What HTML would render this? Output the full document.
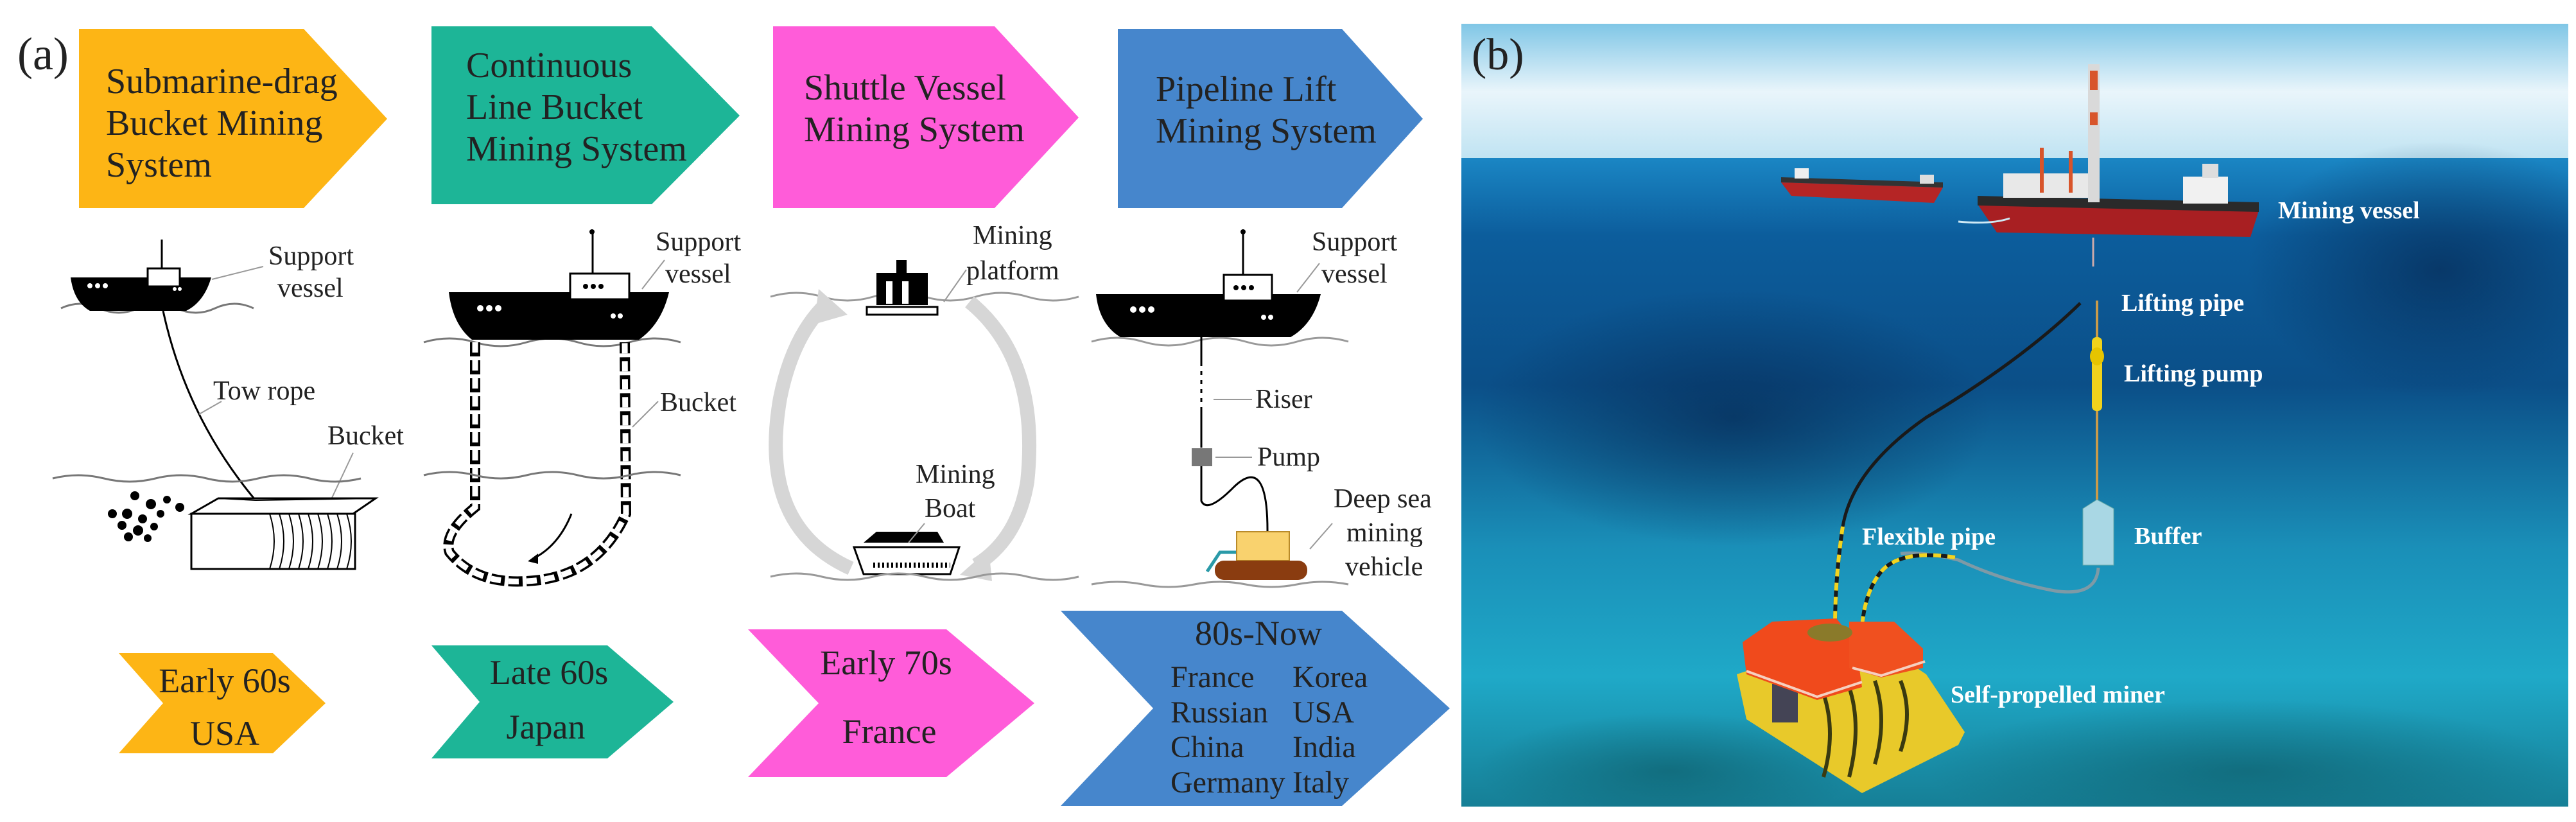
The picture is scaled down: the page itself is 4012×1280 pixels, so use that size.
<!DOCTYPE html>
<html><head><meta charset="utf-8"><style>
html,body{margin:0;padding:0;background:#fff;width:4012px;height:1280px;overflow:hidden}
svg{display:block}
</style></head><body>
<svg width="4012" height="1280" viewBox="0 0 4012 1280" xmlns="http://www.w3.org/2000/svg" font-family="'Liberation Serif','DejaVu Serif',serif">
<defs>
<linearGradient id="sky" x1="0" y1="0" x2="0" y2="1">
<stop offset="0" stop-color="#7fc6e6"/><stop offset="0.5" stop-color="#e9f5fb"/><stop offset="1" stop-color="#bfe3f2"/>
</linearGradient>
<linearGradient id="sea" x1="0" y1="0" x2="0" y2="1">
<stop offset="0" stop-color="#1a86c4"/><stop offset="0.12" stop-color="#0c5d9c"/><stop offset="0.35" stop-color="#0b4f88"/><stop offset="0.6" stop-color="#1a8fb8"/><stop offset="0.8" stop-color="#1fa9c8"/><stop offset="1" stop-color="#167f96"/>
</linearGradient>
<radialGradient id="dark" cx="0.5" cy="0.5" r="0.5"><stop offset="0" stop-color="#062a55" stop-opacity="0.7"/><stop offset="1" stop-color="#062a55" stop-opacity="0"/></radialGradient>
<radialGradient id="floor" cx="0.5" cy="0.5" r="0.5"><stop offset="0" stop-color="#0d5a66" stop-opacity="0.6"/><stop offset="1" stop-color="#0d5a66" stop-opacity="0"/></radialGradient>
<clipPath id="pb"><rect x="2276" y="37" width="1724" height="1219"/></clipPath>
</defs>

<!-- ============ PANEL A ============ -->
<text x="27" y="108" font-size="72" fill="#222">(a)</text>

<polygon points="123,45 473,45 603,185 473,324 123,324" fill="#FDB515"/>
<polygon points="672,41 1015,41 1152,180 1015,318 672,318" fill="#1DB597"/>
<polygon points="1204,41 1549,41 1680,183 1549,324 1204,324" fill="#FF5CD9"/>
<polygon points="1741,45 2090,45 2216,185 2090,324 1741,324" fill="#4686CC"/>

<g font-size="56" fill="#222">
<text x="165" y="145">Submarine-drag</text>
<text x="165" y="210">Bucket Mining</text>
<text x="165" y="275">System</text>
<text x="726" y="120">Continuous</text>
<text x="726" y="185">Line Bucket</text>
<text x="726" y="250">Mining System</text>
<text x="1252" y="155">Shuttle Vessel</text>
<text x="1252" y="220">Mining System</text>
<text x="1800" y="157">Pipeline Lift</text>
<text x="1800" y="222">Mining System</text>
</g>

<polygon points="185,1017 425,1017 507,1095 425,1173 185,1173 254,1095" fill="#FDB515"/>
<polygon points="672,1005 946,1005 1049,1093 946,1181 672,1181 747,1093" fill="#1DB597"/>
<polygon points="1165,980 1474,980 1611,1095 1474,1210 1165,1210 1275,1095" fill="#FF5CD9"/>
<polygon points="1652,951 2090,951 2258,1103 2090,1255 1652,1255 1796,1103" fill="#4686CC"/>
<g font-size="54" fill="#222" text-anchor="middle">
<text x="350" y="1078">Early 60s</text>
<text x="350" y="1160">USA</text>
<text x="855" y="1065">Late 60s</text>
<text x="850" y="1150">Japan</text>
<text x="1380" y="1050">Early 70s</text>
<text x="1385" y="1157">France</text>
<text x="1960" y="1004">80s-Now</text>
</g>
<g font-size="48" fill="#222">
<text x="1823" y="1070">France</text><text x="2013" y="1070">Korea</text>
<text x="1823" y="1125">Russian</text><text x="2013" y="1125">USA</text>
<text x="1823" y="1179">China</text><text x="2013" y="1179">India</text>
<text x="1823" y="1234">Germany</text><text x="2013" y="1234">Italy</text>
</g>

<!-- Column 1 -->
<g>
<path d="M95,480 q30,-14 60,0 t60,0 t60,0 t60,0 t60,0" stroke="#777" stroke-width="3" fill="none"/>
<path d="M110,432 L329,432 Q318,470 290,484 L140,484 Q115,470 110,432 Z" fill="#000"/>
<rect x="230" y="418" width="50" height="28" fill="#fff" stroke="#000" stroke-width="3"/>
<line x1="252" y1="373" x2="252" y2="418" stroke="#000" stroke-width="3"/>
<circle cx="140" cy="445" r="4" fill="#fff"/><circle cx="152" cy="445" r="4" fill="#fff"/><circle cx="164" cy="445" r="4" fill="#fff"/>
<circle cx="272" cy="450" r="3" fill="#fff"/><circle cx="280" cy="450" r="3" fill="#fff"/>
<line x1="330" y1="435" x2="410" y2="415" stroke="#999" stroke-width="2"/>
<text x="418" y="412" font-size="42" fill="#222">Support</text>
<text x="432" y="462" font-size="42" fill="#222">vessel</text>
<path d="M254,484 Q290,650 398,779" stroke="#000" stroke-width="3" fill="none"/>
<line x1="310" y1="645" x2="345" y2="625" stroke="#999" stroke-width="2"/>
<text x="332" y="622" font-size="42" fill="#222">Tow rope</text>
<text x="510" y="692" font-size="42" fill="#222">Bucket</text>
<line x1="550" y1="705" x2="510" y2="790" stroke="#999" stroke-width="2"/>
<path d="M82,745 q40,-10 80,0 t80,0 t80,0 t80,0 t80,0 t80,0" stroke="#777" stroke-width="3" fill="none"/>
<polygon points="298,800 340,776 585,776 550,800" fill="#fff" stroke="#000" stroke-width="3"/>
<rect x="298" y="800" width="255" height="86" fill="#fff" stroke="#000" stroke-width="3"/>
<g stroke="#000" stroke-width="2" fill="none">
<path d="M420,800 q14,43 0,86 M435,800 q14,43 0,86 M450,800 q14,43 0,86 M465,800 q14,43 0,86 M480,800 q14,43 0,86 M495,800 q14,43 0,86 M510,800 q14,43 0,86 M525,800 q14,43 0,86 M540,800 q14,43 0,86"/>
<path d="M340,776 L398,779 M585,776 L398,779"/>
</g>
<g fill="#000">
<circle cx="210" cy="772" r="7"/><circle cx="235" cy="785" r="8"/><circle cx="260" cy="778" r="6"/><circle cx="280" cy="790" r="7"/>
<circle cx="175" cy="800" r="7"/><circle cx="198" cy="800" r="8"/><circle cx="222" cy="808" r="7"/><circle cx="250" cy="800" r="6"/>
<circle cx="190" cy="818" r="7"/><circle cx="215" cy="826" r="8"/><circle cx="240" cy="820" r="6"/><circle cx="200" cy="836" r="7"/><circle cx="230" cy="838" r="6"/>
</g>
</g>

<!-- Column 2 -->
<g>
<path d="M660,533 q40,-12 80,0 t80,0 t80,0 t80,0 t80,0" stroke="#777" stroke-width="3" fill="none"/>
<path d="M699,455 L1042,455 Q1030,505 995,529 L735,529 Q705,505 699,455 Z" fill="#000"/>
<rect x="888" y="426" width="92" height="40" fill="#fff" stroke="#000" stroke-width="3"/>
<line x1="923" y1="361" x2="923" y2="426" stroke="#000" stroke-width="3"/>
<circle cx="922" cy="361" r="4" fill="#000"/>
<circle cx="912" cy="446" r="4" fill="#000"/><circle cx="924" cy="446" r="4" fill="#000"/><circle cx="936" cy="446" r="4" fill="#000"/>
<circle cx="748" cy="480" r="5" fill="#fff"/><circle cx="762" cy="480" r="5" fill="#fff"/><circle cx="776" cy="480" r="5" fill="#fff"/>
<circle cx="955" cy="492" r="4" fill="#fff"/><circle cx="966" cy="492" r="4" fill="#fff"/>
<text x="1021" y="390" font-size="42" fill="#222">Support</text>
<text x="1036" y="440" font-size="42" fill="#222">vessel</text>
<line x1="1000" y1="450" x2="1035" y2="405" stroke="#999" stroke-width="2"/>
<path d="M740,533 L740,790 Q690,830 700,860 Q740,910 820,905 Q930,900 975,800 L973,533" stroke="#000" stroke-width="16" stroke-dasharray="22,6" fill="none"/>
<path d="M740,533 L740,790 Q690,830 700,860 Q740,910 820,905 Q930,900 975,800 L973,533" stroke="#fff" stroke-width="9" stroke-dasharray="16,12" fill="none"/>
<path d="M890,800 Q870,850 830,870" stroke="#000" stroke-width="3" fill="none"/>
<polygon points="822,874 838,862 838,878" fill="#000"/>
<text x="1028" y="640" font-size="42" fill="#222">Bucket</text>
<line x1="985" y1="665" x2="1025" y2="625" stroke="#999" stroke-width="2"/>
<path d="M660,740 q40,-10 80,0 t80,0 t80,0 t80,0 t80,0" stroke="#777" stroke-width="3" fill="none"/>
</g>

<!-- Column 3 -->
<g>
<path d="M1200,462 q40,-12 80,0 t80,0 t80,0 t80,0 t80,0 t80,0" stroke="#999" stroke-width="3" fill="none"/>
<rect x="1365" y="425" width="80" height="50" fill="#000"/>
<rect x="1380" y="438" width="10" height="35" fill="#fff"/><rect x="1405" y="438" width="10" height="35" fill="#fff"/>
<rect x="1350" y="478" width="110" height="12" fill="#fff" stroke="#000" stroke-width="3"/>
<rect x="1396" y="405" width="16" height="20" fill="#000"/>
<text x="1515" y="380" font-size="42" fill="#222">Mining</text>
<text x="1505" y="435" font-size="42" fill="#222">platform</text>
<line x1="1470" y1="470" x2="1505" y2="420" stroke="#999" stroke-width="2"/>
<path d="M1325,885 Q1180,820 1215,620 Q1235,520 1290,470" stroke="#d6d6d6" stroke-width="22" fill="none"/>
<polygon points="1275,450 1320,490 1268,505" fill="#d6d6d6"/>
<path d="M1510,470 Q1620,560 1600,750 Q1585,840 1520,880" stroke="#d6d6d6" stroke-width="22" fill="none"/>
<polygon points="1495,895 1540,855 1545,905" fill="#d6d6d6"/>
<path d="M1345,845 L1365,828 L1460,828 L1470,845 Z" fill="#000"/>
<path d="M1330,852 L1494,852 L1480,894 L1345,894 Z" fill="#fff" stroke="#000" stroke-width="3"/>
<path d="M1360,880 L1480,880" stroke="#000" stroke-width="8" stroke-dasharray="3,4"/>
<text x="1426" y="752" font-size="42" fill="#222">Mining</text>
<text x="1440" y="805" font-size="42" fill="#222">Boat</text>
<line x1="1440" y1="815" x2="1415" y2="845" stroke="#999" stroke-width="2"/>
<path d="M1200,898 q40,-10 80,0 t80,0 t80,0 t80,0 t80,0 t80,0" stroke="#999" stroke-width="3" fill="none"/>
</g>

<!-- Column 4 -->
<g>
<path d="M1700,532 q40,-12 80,0 t80,0 t80,0 t80,0 t80,0" stroke="#999" stroke-width="3" fill="none"/>
<path d="M1707,458 L2057,458 Q2045,505 2010,525 L1745,525 Q1712,505 1707,458 Z" fill="#000"/>
<rect x="1906" y="428" width="75" height="40" fill="#fff" stroke="#000" stroke-width="3"/>
<line x1="1936" y1="361" x2="1936" y2="428" stroke="#000" stroke-width="3"/>
<circle cx="1936" cy="361" r="4" fill="#000"/>
<circle cx="1925" cy="448" r="4" fill="#000"/><circle cx="1937" cy="448" r="4" fill="#000"/><circle cx="1949" cy="448" r="4" fill="#000"/>
<circle cx="1765" cy="482" r="5" fill="#fff"/><circle cx="1779" cy="482" r="5" fill="#fff"/><circle cx="1793" cy="482" r="5" fill="#fff"/>
<circle cx="1968" cy="494" r="4" fill="#fff"/><circle cx="1979" cy="494" r="4" fill="#fff"/>
<text x="2043" y="390" font-size="42" fill="#222">Support</text>
<text x="2058" y="440" font-size="42" fill="#222">vessel</text>
<line x1="2020" y1="455" x2="2055" y2="410" stroke="#999" stroke-width="2"/>
<line x1="1871" y1="525" x2="1871" y2="697" stroke="#000" stroke-width="3"/>
<line x1="1871" y1="570" x2="1871" y2="640" stroke="#fff" stroke-width="3" stroke-dasharray="8,6"/>
<line x1="1890" y1="622" x2="1950" y2="622" stroke="#999" stroke-width="2"/>
<text x="1955" y="635" font-size="42" fill="#222">Riser</text>
<rect x="1856" y="698" width="32" height="28" fill="#777"/>
<line x1="1893" y1="712" x2="1950" y2="712" stroke="#999" stroke-width="2"/>
<text x="1958" y="725" font-size="42" fill="#222">Pump</text>
<path d="M1871,726 L1871,780 Q1880,800 1920,760 Q1975,705 1974,830" stroke="#000" stroke-width="3" fill="none"/>
<rect x="1926" y="828" width="82" height="45" fill="#F9D26E" stroke="#b98b2a" stroke-width="2"/>
<rect x="1892" y="873" width="144" height="30" rx="14" fill="#8a3c10"/>
<path d="M1880,890 L1900,860 L1925,860" stroke="#2a9aa8" stroke-width="5" fill="none"/>
<text x="2077" y="790" font-size="42" fill="#222">Deep sea</text>
<text x="2097" y="843" font-size="42" fill="#222">mining</text>
<text x="2095" y="896" font-size="42" fill="#222">vehicle</text>
<line x1="2040" y1="855" x2="2075" y2="815" stroke="#999" stroke-width="2"/>
<path d="M1700,910 q40,-8 80,0 t80,0 t80,0 t80,0 t80,0" stroke="#999" stroke-width="3" fill="none"/>
</g>

<!-- ============ PANEL B ============ -->
<g clip-path="url(#pb)">
<rect x="2276" y="37" width="1724" height="212" fill="url(#sky)"/>
<rect x="2276" y="246" width="1724" height="1010" fill="url(#sea)"/>
<ellipse cx="3800" cy="420" rx="300" ry="200" fill="url(#dark)"/>
<ellipse cx="2700" cy="650" rx="400" ry="200" fill="url(#dark)"/>
<ellipse cx="3500" cy="1200" rx="500" ry="110" fill="url(#floor)"/>
<ellipse cx="2600" cy="1200" rx="300" ry="90" fill="url(#floor)"/>
</g>
<text x="2292" y="108" font-size="70" fill="#222">(b)</text>

<path d="M2774,284 L3026,292 L3012,316 L2790,305 Z" fill="#b52525"/>
<path d="M2774,276 L3026,284 L3026,292 L2774,284 Z" fill="#333"/>
<rect x="2795" y="262" width="22" height="16" fill="#eee"/>
<rect x="2990" y="272" width="22" height="14" fill="#ddd"/>
<path d="M3080,318 L3518,328 L3505,369 L3110,362 Z" fill="#a81f22"/>
<path d="M3080,305 L3518,315 L3518,330 L3080,320 Z" fill="#2a2a2a"/>
<rect x="3120" y="270" width="150" height="38" fill="#e8e8e8"/>
<rect x="3400" y="275" width="70" height="42" fill="#f1f1f1"/>
<rect x="3430" y="255" width="25" height="22" fill="#ddd"/>
<rect x="3252" y="100" width="18" height="215" fill="#d9d9d9"/>
<rect x="3255" y="110" width="12" height="30" fill="#d8542a"/>
<rect x="3255" y="175" width="12" height="20" fill="#d8542a"/>
<line x1="3180" y1="230" x2="3180" y2="300" stroke="#d8542a" stroke-width="6"/>
<line x1="3225" y1="235" x2="3225" y2="300" stroke="#d8542a" stroke-width="6"/>
<path d="M3050,345 Q3100,350 3130,340" stroke="#cfe9f5" stroke-width="3" fill="none"/>
<text x="3548" y="340" font-size="38" font-weight="bold" fill="#fff">Mining vessel</text>

<line x1="3260" y1="370" x2="3260" y2="415" stroke="#caa" stroke-width="3"/>
<line x1="3266" y1="468" x2="3266" y2="780" stroke="#c99b4a" stroke-width="4"/>
<rect x="3258" y="525" width="16" height="115" rx="7" fill="#f0d21c"/>
<ellipse cx="3266" cy="555" rx="11" ry="14" fill="#e6c400"/>
<text x="3304" y="484" font-size="38" font-weight="bold" fill="#fff">Lifting pipe</text>
<text x="3308" y="594" font-size="38" font-weight="bold" fill="#fff">Lifting pump</text>
<path d="M3244,792 L3266,778 L3292,792 L3292,880 L3244,880 Z" fill="#a9d7e4" stroke="#6aa" stroke-width="1"/>
<text x="3324" y="847" font-size="38" font-weight="bold" fill="#fff">Buffer</text>
<path d="M3240,472 Q3150,560 3000,650 Q2885,730 2870,820" stroke="#1a1a1a" stroke-width="5" fill="none"/>
<path d="M2870,820 Q2858,900 2858,975" stroke="#1a1a1a" stroke-width="6" fill="none"/>
<path d="M2870,820 Q2858,900 2858,975" stroke="#f2d420" stroke-width="6" stroke-dasharray="12,10" fill="none"/>
<path d="M3268,884 Q3265,930 3200,920 Q3120,905 3050,872 Q2990,858 2960,862" stroke="#7e9aa6" stroke-width="5" fill="none"/>
<path d="M3045,868 Q2960,855 2930,890 Q2905,920 2900,975" stroke="#1a1a1a" stroke-width="6" fill="none"/>
<path d="M3045,868 Q2960,855 2930,890 Q2905,920 2900,975" stroke="#f2d420" stroke-width="6" stroke-dasharray="12,10" fill="none"/>
<text x="2900" y="848" font-size="38" font-weight="bold" fill="#fff">Flexible pipe</text>

<polygon points="2705,1050 2735,1040 2985,1040 3000,1050 3060,1140 3050,1160 2900,1235 2720,1120" fill="#e8c92a"/>
<g stroke="#3a3a10" stroke-width="6" fill="none">
<path d="M2880,1070 q20,60 0,140"/><path d="M2920,1060 q20,60 0,130"/><path d="M2960,1060 q20,50 0,110"/><path d="M2840,1080 q20,60 0,130"/>
</g>
<rect x="2760" y="1065" width="40" height="60" fill="#445"/>
<polygon points="2714,1000 2760,968 2860,963 2890,1000 2900,1070 2830,1090 2720,1050" fill="#f04a1c"/>
<polygon points="2880,968 2950,968 2995,1010 2995,1040 2930,1055 2880,1040" fill="#f0501f"/>
<path d="M2720,1045 L2830,1085 L2900,1062" stroke="#f5d0c0" stroke-width="4" fill="none"/>
<path d="M2885,1040 L2930,1052 L2998,1030" stroke="#f5d0c0" stroke-width="4" fill="none"/>
<ellipse cx="2850" cy="985" rx="35" ry="14" fill="#8a7a2a"/>
<text x="3038" y="1094" font-size="38" font-weight="bold" fill="#fff">Self-propelled miner</text>
</svg>
</body></html>
